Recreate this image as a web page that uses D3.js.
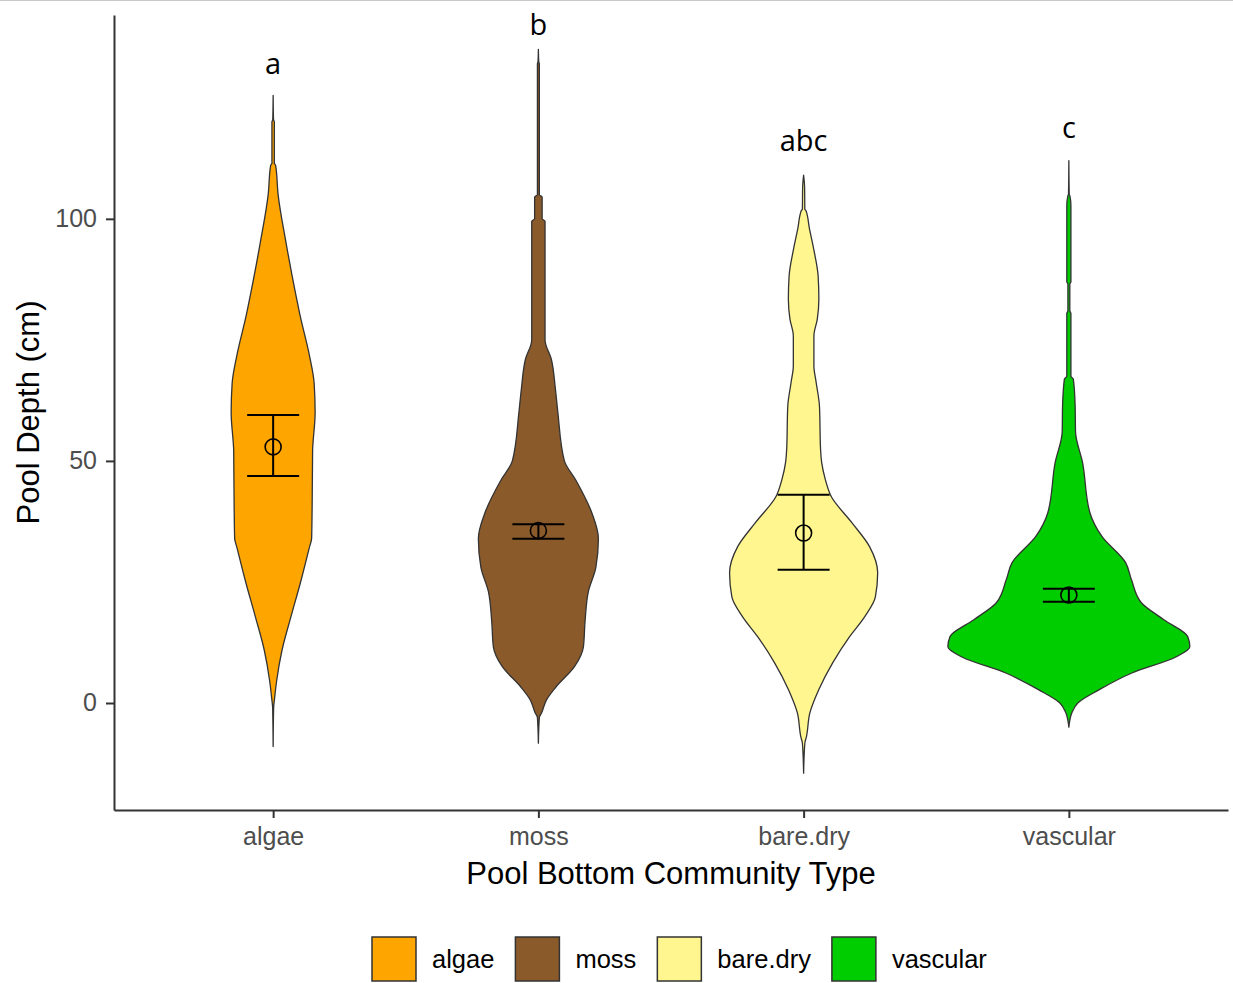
<!DOCTYPE html>
<html><head><meta charset="utf-8">
<script src="https://cdn.jsdelivr.net/npm/d3@7"></script>
<style>body{margin:0;background:#fff}svg{display:block}</style>
</head><body><svg id="chart" width="1233" height="983"></svg>
<script>
// ---------- data ----------
const categories = ["algae", "moss", "bare.dry", "vascular"];
const fillColors = ["#FFA500", "#8B5A2B", "#FFF68F", "#00CD00"];
const yTicks = [0, 50, 100];
const sigLetters = ["a", "b", "abc", "c"];
const letterY = [130, 138, 114, 116.7];
const means = [52.9, 35.6, 35.1, 22.3];
const lowerCI = [46.9, 33.9, 27.5, 20.9];
const upperCI = [59.5, 36.9, 43.0, 23.6];

// violin profiles: [depth (cm), relative density]
const algaeProfile = [
  [125.5, 0], [120.5, 0.3], [120, 1.0], [111.5, 1.0], [111, 2.1], [105, 4.1], [95, 10.7],
  [85, 18.2], [80, 22.3], [72, 29.8], [66, 33.9], [60, 34.7], [52, 32.6], [40, 32.2],
  [34, 31.8], [32, 29.8], [25, 22.7], [18, 14.9], [11, 7.4], [4.6, 2.9], [1, 1.2],
  [-1, 0.4], [-9, 0]
];
const mossProfile = [
  [135, 0], [132.5, 0.3], [132, 0.8], [105, 0.8], [104.5, 3.1], [100, 3.1], [99.5, 5.5],
  [75, 5.5], [71, 10.7], [65, 14], [60, 16.1], [50, 21.5], [46, 31], [39, 44.6], [34, 49.6],
  [28, 47.5], [23, 41.3], [17, 38.6], [11.6, 37.2], [7.5, 29.8], [3.3, 14.5], [0.6, 6.6],
  [-2, 2.7], [-3, 0.8], [-8.3, 0]
];
const bareProfile = [
  [109, 0], [106.6, 0.8], [102, 1.0], [101.7, 1.9], [98, 4.8], [93.8, 8.3], [88.2, 12],
  [83.4, 12.6], [79.3, 11.3], [75.8, 8.5], [69.6, 8.5], [66.3, 10.3], [61.3, 13.1],
  [52.4, 14], [49.7, 14.9], [46.2, 17.9], [42.7, 22.7], [37.3, 39.7], [32.3, 54.5],
  [26.9, 61.2], [21.9, 59.3], [17.8, 50.4], [13.7, 38], [8.3, 24], [2.7, 12.4], [-2, 5.2],
  [-7, 2.3], [-8.3, 1], [-14.5, 0]
];
const vascularProfile = [
  [112, 0], [105, 0.3], [104.8, 0.8], [102.7, 1.7], [87, 1.7], [86.5, 0.8], [81, 0.8],
  [80.5, 1.7], [67.5, 1.7], [66.9, 3.7], [61.3, 5.2], [56, 5.5], [49.7, 11.3], [39.3, 17.4],
  [34.4, 27.3], [29, 46.9], [25.5, 51.7], [20.7, 59.9], [17.2, 78.5], [13.7, 98.3],
  [11.6, 100], [9.5, 88.4], [6.2, 52.1], [2.7, 24.8], [0, 7.4], [-2, 2.5], [-5, 0]
];
const profiles = [algaeProfile, mossProfile, bareProfile, vascularProfile];

// ---------- layout ----------
const svg = d3.select("#chart");
const plotLeft = 114, plotRight = 1228, plotTop = 15, plotBottom = 810;

svg.append("rect").attr("width", 1233).attr("height", 983).attr("fill", "#fff");
svg.append("line").attr("x1", 0).attr("x2", 1233).attr("y1", 0.5).attr("y2", 0.5)
  .attr("stroke", "#c8c8c8").attr("stroke-width", 1);

const x = d3.scalePoint().domain(categories).range([plotLeft, plotRight]).padding(0.6);
const y = d3.scaleLinear().domain([-22.1, 142.1]).range([plotBottom, plotTop]);
const w = d3.scaleLinear().domain([0, 100]).range([0, 121]);

// violins
categories.forEach((cat, i) => {
  const cx = x(cat);
  const area = d3.area()
    .x0(d => cx - w(d[1]))
    .x1(d => cx + w(d[1]))
    .y(d => y(d[0]))
    .curve(d3.curveMonotoneY);
  svg.append("path")
    .datum(profiles[i])
    .attr("d", area)
    .attr("fill", fillColors[i])
    .attr("stroke", "#333")
    .attr("stroke-width", 1.3)
    .attr("stroke-linejoin", "round");
});

// error bars + means
const capHalf = 26;
categories.forEach((cat, i) => {
  const cx = x(cat);
  const g = svg.append("g").attr("stroke", "#000").attr("stroke-width", 2).attr("fill", "none");
  g.append("line").attr("x1", cx).attr("x2", cx).attr("y1", y(lowerCI[i])).attr("y2", y(upperCI[i]));
  g.append("line").attr("x1", cx - capHalf).attr("x2", cx + capHalf).attr("y1", y(lowerCI[i])).attr("y2", y(lowerCI[i]));
  g.append("line").attr("x1", cx - capHalf).attr("x2", cx + capHalf).attr("y1", y(upperCI[i])).attr("y2", y(upperCI[i]));
  g.append("circle").attr("cx", cx).attr("cy", y(means[i])).attr("r", 8).attr("stroke-width", 1.6);
});

// significance letters
categories.forEach((cat, i) => {
  svg.append("text")
    .attr("x", x(cat)).attr("y", y(letterY[i]))
    .attr("text-anchor", "middle")
    .attr("font-family", "'Open Sans', sans-serif")
    .attr("font-size", 29)
    .attr("fill", "#000")
    .text(sigLetters[i]);
});

// axes
const yAxis = svg.append("g").attr("transform", `translate(${plotLeft},0)`)
  .call(d3.axisLeft(y).tickValues(yTicks).tickSize(8).tickSizeOuter(0).tickPadding(9));
const xAxis = svg.append("g").attr("transform", `translate(0,${plotBottom})`)
  .call(d3.axisBottom(x).tickSize(8).tickSizeOuter(0).tickPadding(9));
[yAxis, xAxis].forEach(a => {
  a.select(".domain").attr("stroke", "#333").attr("stroke-width", 2);
  a.selectAll(".tick line").attr("stroke", "#333").attr("stroke-width", 2);
  a.selectAll(".tick text").attr("fill", "#4d4d4d")
    .attr("font-family", "'Liberation Sans', Arial, sans-serif").attr("font-size", 25);
});

// axis titles
svg.append("text")
  .attr("x", (plotLeft + plotRight) / 2).attr("y", 884)
  .attr("text-anchor", "middle")
  .attr("font-family", "'Liberation Sans', Arial, sans-serif").attr("font-size", 31)
  .attr("fill", "#000").text("Pool Bottom Community Type");
svg.append("text")
  .attr("transform", `translate(39,${(plotTop + plotBottom) / 2}) rotate(-90)`)
  .attr("text-anchor", "middle")
  .attr("font-family", "'Liberation Sans', Arial, sans-serif").attr("font-size", 31)
  .attr("fill", "#000").text("Pool Depth (cm)");

// legend
const keySize = 44, keyTop = 937;
let lx = 372;
categories.forEach((cat, i) => {
  svg.append("rect").attr("x", lx).attr("y", keyTop).attr("width", keySize).attr("height", keySize)
    .attr("fill", fillColors[i]).attr("stroke", "#333").attr("stroke-width", 1.5);
  const t = svg.append("text")
    .attr("x", lx + keySize + 16).attr("y", keyTop + keySize / 2).attr("dy", "0.35em")
    .attr("font-family", "'Liberation Sans', Arial, sans-serif").attr("font-size", 25.5)
    .attr("fill", "#000").text(cat);
  lx = lx + keySize + 16 + t.node().getComputedTextLength() + 21;
});
</script></body></html>
